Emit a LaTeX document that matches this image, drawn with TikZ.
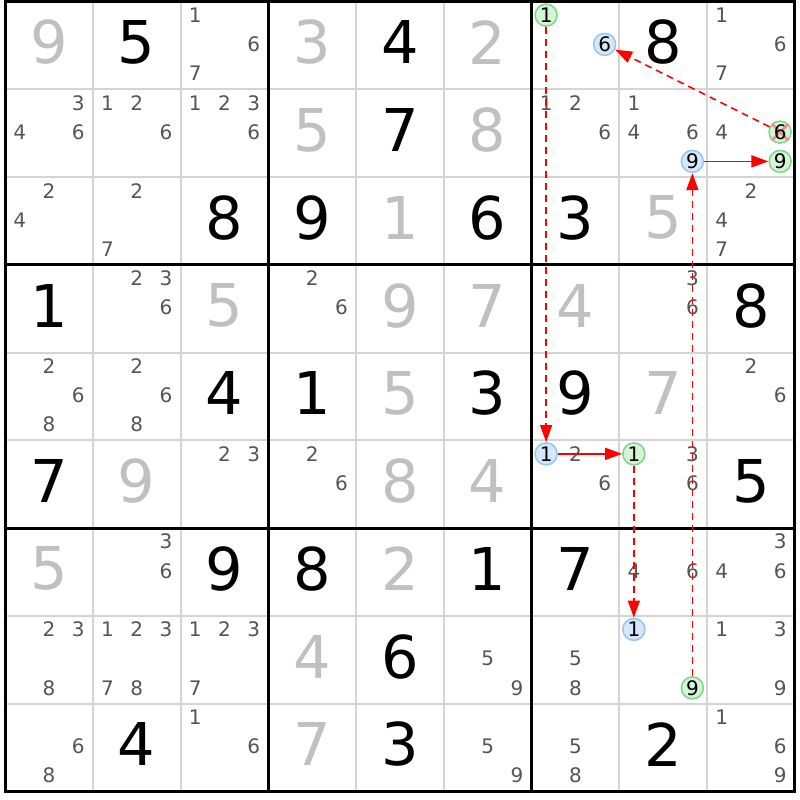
\documentclass[tikz,border=0pt]{standalone}
\usepackage{fontspec}
\setmainfont{DejaVu Sans}
\usetikzlibrary{arrows.meta}
\definecolor{gridgray}{HTML}{D4D4D4}
\definecolor{candgray}{HTML}{555555}
\definecolor{solgray}{HTML}{C0C0C0}
\definecolor{bluefill}{HTML}{D5E8FB}
\definecolor{bluedraw}{HTML}{95C5F2}
\definecolor{greenfill}{HTML}{D5F3D5}
\definecolor{greendraw}{HTML}{7CD68A}
\definecolor{xpink}{HTML}{EE8E8E}
\newcommand\cpos[3]{%
 \pgfmathsetmacro\candx{5+(#2-1)*87.75+(mod(#3-1,3)+0.5)*29.25}%
 \pgfmathsetmacro\candy{1.5+(#1-1)*87.75+(floor((#3-1)/3)+0.5)*29.25-1}}
\newcommand\cands[3]{\foreach \dd in {#3}{\cpos{#1}{#2}{\dd}\node[cand] (c-#1-#2-\dd) at (\candx,\candy) {\dd};}}
\newcommand\gv[3]{\node[givendig] (g-#1-#2) at ({5+(#2-0.5)*87.75},{1.5+(#1-0.5)*87.75-3}) {#3};}
\newcommand\sv[3]{\node[solveddig] (s-#1-#2) at ({5+(#2-0.5)*87.75},{1.5+(#1-0.5)*87.75-3}) {#3};}
\newcommand\circd[5]{\cpos{#2}{#3}{#4}\node[#1] (#5) at (\candx,\candy) {#4};}
\begin{document}
\begin{tikzpicture}[x=1pt,y=-1pt,
 cand/.style={inner sep=0pt,text=candgray,font=\fontsize{20}{20}\selectfont},
 givendig/.style={inner sep=0pt,text=black,font=\fontsize{59}{59}\selectfont},
 solveddig/.style={givendig,text=solgray},
 bluec/.style={circle,draw=bluedraw,fill=bluefill,line width=1.5pt,minimum size=22pt,inner sep=0pt,text=black,font=\fontsize{20}{20}\selectfont},
 greenc/.style={bluec,draw=greendraw,fill=greenfill},
 plaindig/.style={inner sep=0pt,text=black,font=\fontsize{20}{20}\selectfont},
 xmark/.style={draw=xpink,line width=2.6pt},
 thinline/.style={draw=gridgray,line width=2pt},
 thickline/.style={draw=black,line width=3pt},
 link/.style={draw=red,line width=1.5pt,-{Triangle[length=17pt,width=12pt]}},
 weak/.style={link,dash pattern=on 7pt off 5pt},
 ]
\useasboundingbox (0,0) rectangle (800,800);
\fill[white] (0,0) rectangle (800,800);
% grid
\foreach \k in {1,2,4,5,7,8}{
  \draw[thinline] ({5+87.75*\k},1.5) -- ({5+87.75*\k},791.25);
  \draw[thinline] (5,{1.5+87.75*\k}) -- (794.75,{1.5+87.75*\k});
}
\foreach \k in {0,3,6,9}{
  \draw[thickline] ({5+87.75*\k},0) -- ({5+87.75*\k},792.75);
  \draw[thickline] (3.5,{1.5+87.75*\k}) -- (796.25,{1.5+87.75*\k});
}
% givens
\gv{1}{2}{5}\gv{1}{5}{4}\gv{1}{8}{8}
\gv{2}{5}{7}
\gv{3}{3}{8}\gv{3}{4}{9}\gv{3}{6}{6}\gv{3}{7}{3}
\gv{4}{1}{1}\gv{4}{9}{8}
\gv{5}{3}{4}\gv{5}{4}{1}\gv{5}{6}{3}\gv{5}{7}{9}
\gv{6}{1}{7}\gv{6}{9}{5}
\gv{7}{3}{9}\gv{7}{4}{8}\gv{7}{6}{1}\gv{7}{7}{7}
\gv{8}{5}{6}
\gv{9}{2}{4}\gv{9}{5}{3}\gv{9}{8}{2}
% solved
\sv{1}{1}{9}\sv{1}{4}{3}\sv{1}{6}{2}
\sv{2}{4}{5}\sv{2}{6}{8}
\sv{3}{5}{1}\sv{3}{8}{5}
\sv{4}{3}{5}\sv{4}{5}{9}\sv{4}{6}{7}\sv{4}{7}{4}
\sv{5}{5}{5}\sv{5}{8}{7}
\sv{6}{2}{9}\sv{6}{5}{8}\sv{6}{6}{4}
\sv{7}{1}{5}\sv{7}{5}{2}
\sv{8}{4}{4}
\sv{9}{4}{7}
% candidates
\cands{1}{3}{1,6,7}\cands{1}{9}{1,6,7}
\cands{2}{1}{3,4,6}\cands{2}{2}{1,2,6}\cands{2}{3}{1,2,3,6}\cands{2}{7}{1,2,6}\cands{2}{8}{1,4,6}\cands{2}{9}{4}
\cands{3}{1}{2,4}\cands{3}{2}{2,7}\cands{3}{9}{2,4,7}
\cands{4}{2}{2,3,6}\cands{4}{4}{2,6}\cands{4}{8}{3,6}
\cands{5}{1}{2,6,8}\cands{5}{2}{2,6,8}\cands{5}{9}{2,6}
\cands{6}{3}{2,3}\cands{6}{4}{2,6}\cands{6}{7}{2,6}\cands{6}{8}{3,6}
\cands{7}{2}{3,6}\cands{7}{8}{4,6}\cands{7}{9}{3,4,6}
\cands{8}{1}{2,3,8}\cands{8}{2}{1,2,3,7,8}\cands{8}{3}{1,2,3,7}\cands{8}{6}{5,9}\cands{8}{7}{5,8}\cands{8}{9}{1,3,9}
\cands{9}{1}{6,8}\cands{9}{3}{1,6}\cands{9}{6}{5,9}\cands{9}{7}{5,8}\cands{9}{9}{1,6,9}
% circled candidates
\circd{greenc}{1}{7}{1}{GA}
\circd{bluec}{1}{7}{6}{BS}
\circd{bluec}{2}{8}{9}{BN}
\circd{greenc}{2}{9}{9}{GN}
\circd{bluec}{6}{7}{1}{BA}
\circd{greenc}{6}{8}{1}{GB}
\circd{bluec}{8}{8}{1}{BB}
\circd{greenc}{8}{8}{9}{GM}
\cpos{2}{9}{6}
\node[greenc] (GS) at (\candx,\candy) {};
\draw[xmark] (GS.north west) -- (GS.south east);
\draw[xmark] (GS.north east) -- (GS.south west);
\node[plaindig] (GSt) at (GS) {6};
% links
\draw[weak] (GA) -- (BA);
\draw[link] (BA) -- (GB);
\draw[weak] (GB) -- (BB);
\draw[weak] (GM) -- (BN);
\draw[link] (BN) -- (GN);
\draw[weak] (GS) -- (BS);
\end{tikzpicture}
\end{document}
